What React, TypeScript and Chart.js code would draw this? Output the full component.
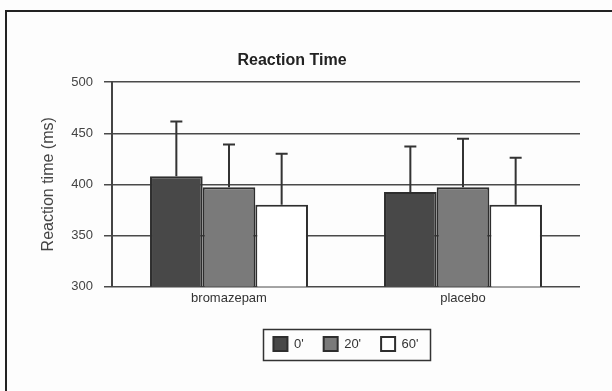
import React, { useEffect, useRef } from "react";
import { Chart, registerables } from "chart.js";
Chart.register(...registerables);

const categories = ["bromazepam", "placebo"];
const seriesLabels = ["0'", "20'", "60'"];
const means0 = [408, 392.5];
const means20 = [397, 397];
const means60 = [380, 380];
const err0 = [53.5, 44.5];
const err20 = [42, 47.5];
const err60 = [50, 46];
const yMin = 300;
const yMax = 500;
const yStep = 50;

const FONT = "'Liberation Sans', Arial, sans-serif";

const errorBarPlugin = {
  id: "errorBars",
  afterDatasetsDraw(chart: any) {
    const ctx = chart.ctx;
    const yScale = chart.scales.y;
    chart.data.datasets.forEach((ds: any, i: number) => {
      const meta = chart.getDatasetMeta(i);
      meta.data.forEach((bar: any, j: number) => {
        const v = ds.data[j];
        const e = ds.errors[j];
        const yTop = yScale.getPixelForValue(v + e);
        const yBar = yScale.getPixelForValue(v);
        ctx.save();
        ctx.strokeStyle = "#333";
        ctx.lineWidth = 2;
        ctx.beginPath();
        ctx.moveTo(bar.x, yBar);
        ctx.lineTo(bar.x, yTop);
        ctx.moveTo(bar.x - 6, yTop);
        ctx.lineTo(bar.x + 6, yTop);
        ctx.stroke();
        ctx.restore();
      });
    });
  },
};

const legendBoxPlugin = {
  id: "legendBox",
  afterDraw(chart: any) {
    const boxes = chart.legend && chart.legend.legendHitBoxes;
    if (!boxes || !boxes.length) return;
    let l = Infinity, r = -Infinity, t = Infinity, b = -Infinity;
    boxes.forEach((h: any) => {
      l = Math.min(l, h.left);
      r = Math.max(r, h.left + h.width);
      t = Math.min(t, h.top);
      b = Math.max(b, h.top + h.height);
    });
    const cy = (t + b) / 2;
    const ctx = chart.ctx;
    ctx.save();
    ctx.strokeStyle = "#333";
    ctx.lineWidth = 1.5;
    ctx.strokeRect(Math.round(l - 10) + 0.5, Math.round(cy - 15.5) + 0.5, Math.round(r - l + 22), 31);
    ctx.restore();
  },
};

export default function App() {
  const ref = useRef<HTMLCanvasElement>(null);
  useEffect(() => {
    if (!ref.current) return;
    const chart = new Chart(ref.current, {
      type: "bar",
      data: {
        labels: categories,
        datasets: [
          { label: seriesLabels[0], data: means0, errors: err0, backgroundColor: "#484848" } as any,
          { label: seriesLabels[1], data: means20, errors: err20, backgroundColor: "#7a7a7a" } as any,
          { label: seriesLabels[2], data: means60, errors: err60, backgroundColor: "#ffffff" } as any,
        ].map((d) => ({
          ...d,
          borderColor: "#2e2e2e",
          borderWidth: 2,
          barPercentage: 1,
          categoryPercentage: 0.675,
        })),
      },
      options: {
        responsive: false,
        animation: false,
        layout: { padding: { left: 4, right: 32, top: 51, bottom: 30 } },
        plugins: {
          title: {
            display: true,
            text: "Reaction Time",
            color: "#222",
            font: { family: FONT, size: 16, weight: "bold" },
            padding: { top: 0, bottom: 12 },
          },
          legend: {
            position: "bottom",
            fullSize: false,
            labels: {
              boxWidth: 14,
              boxHeight: 14,
              padding: 20,
              color: "#333",
              font: { family: FONT, size: 13 },
            },
          },
          tooltip: { enabled: false },
        },
        scales: {
          x: {
            grid: { display: false, drawTicks: false },
            border: { display: false },
            ticks: { color: "#333", padding: 4, font: { family: FONT, size: 13 } },
            afterFit(scale: any) {
              scale.height = scale.height + 7;
            },
          },
          y: {
            min: yMin,
            max: yMax,
            ticks: { stepSize: yStep, color: "#444", padding: 11, font: { family: FONT, size: 13 } },
            grid: { color: "#4a4a4a", lineWidth: 1.5, tickLength: 8 },
            border: { display: true, color: "#444", width: 2 },
            title: {
              display: true,
              text: "Reaction time (ms)",
              color: "#444",
              font: { family: FONT, size: 16 },
              padding: 35,
            },
            afterFit(scale: any) {
              scale.width = 108;
            },
          },
        },
      },
      plugins: [errorBarPlugin, legendBoxPlugin],
    } as any);
    return () => chart.destroy();
  }, []);

  return (
    <div
      style={{
        position: "fixed",
        left: 0,
        top: 0,
        width: 612,
        height: 391,
        overflow: "hidden",
        background: "#fdfdfd",
      }}
    >
      <div
        style={{
          position: "absolute",
          left: 5,
          top: 10,
          width: 700,
          height: 500,
          borderTop: "2px solid #222",
          borderLeft: "2px solid #222",
        }}
      />
      <canvas ref={ref} width={612} height={391} style={{ position: "absolute", left: 0, top: 0 }} />
    </div>
  );
}
